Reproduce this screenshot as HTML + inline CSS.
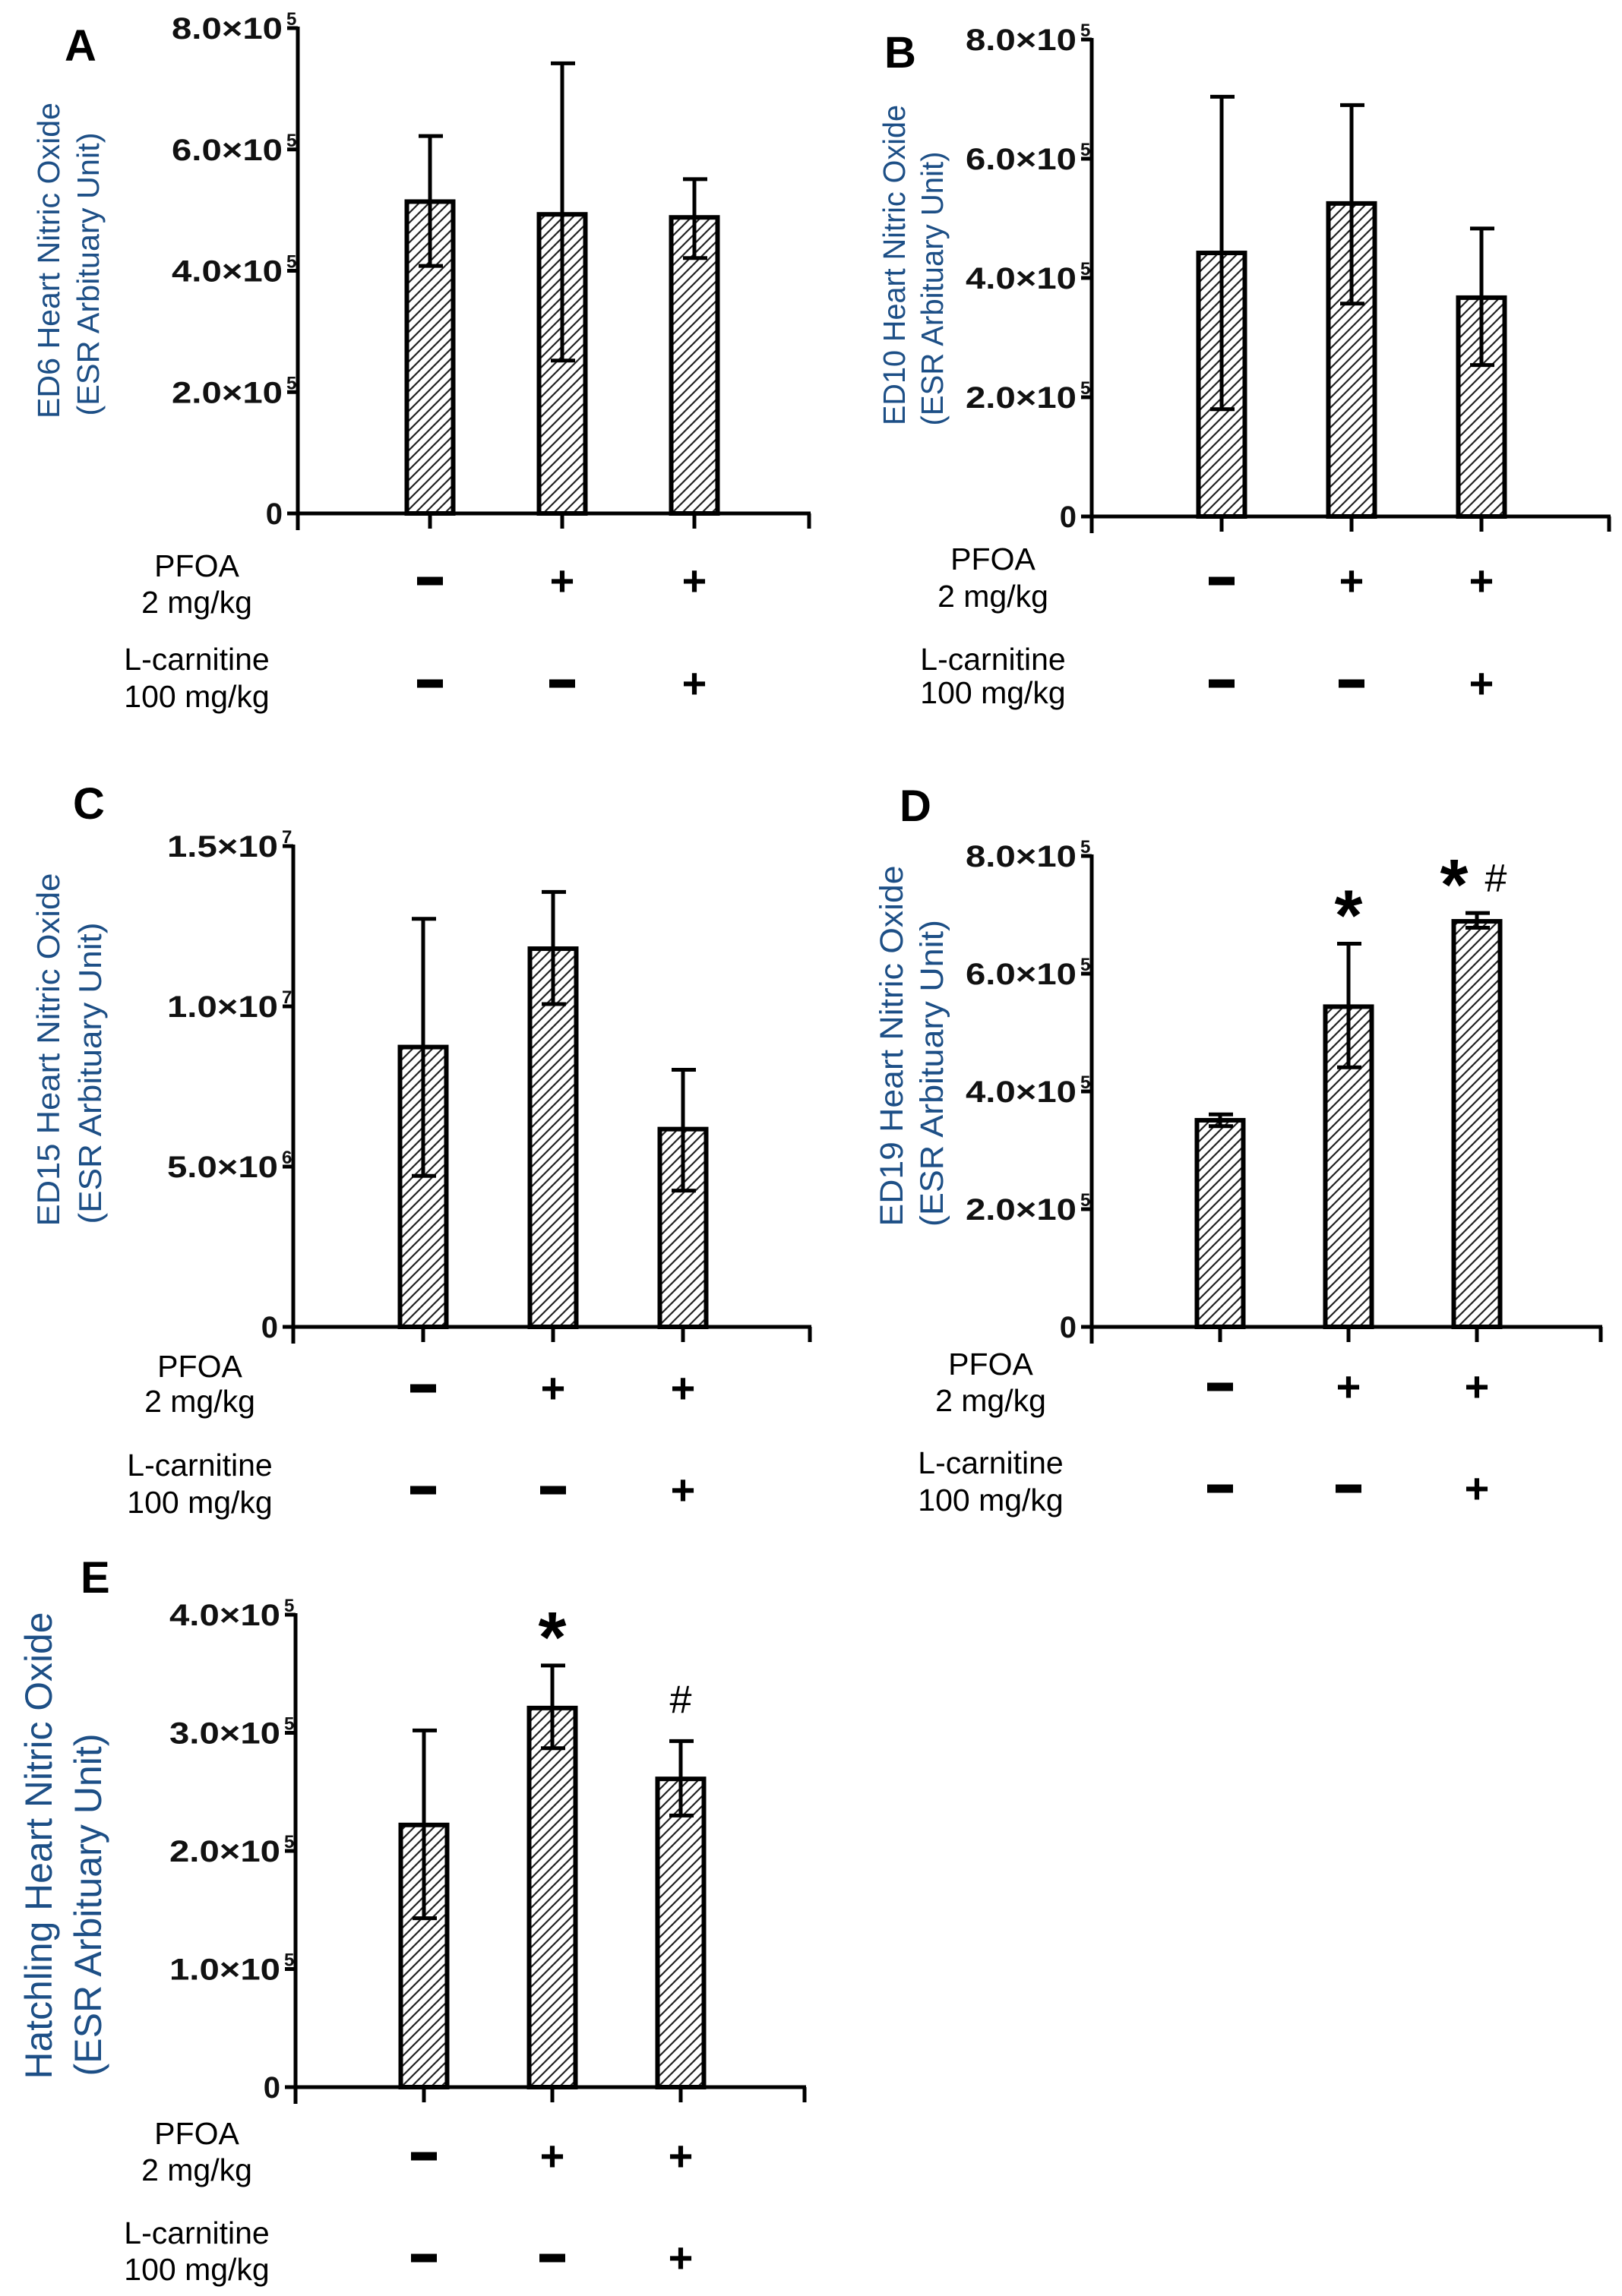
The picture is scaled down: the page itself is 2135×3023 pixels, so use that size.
<!DOCTYPE html>
<html><head><meta charset="utf-8"><style>
html,body{margin:0;padding:0;background:#fff;}
svg{display:block;}
</style></head><body>
<svg id="fig" width="2135" height="3023" viewBox="0 0 2135 3023" xmlns="http://www.w3.org/2000/svg">
<defs>
<pattern id="hatch" patternUnits="userSpaceOnUse" width="13" height="13">
<path d="M-3,3 L3,-3 M0,13 L13,0 M10,16 L16,10" stroke="#222" stroke-width="2.2"/>
</pattern>
</defs>
</svg>
<script>
// ---- data (values in units of the y-axis) ----
const categories = ["Control", "PFOA", "PFOA + L-carnitine"];
const pfoaSigns = ["-", "+", "+"];
const carnitineSigns = ["-", "-", "+"];

const meanA = [5.14e5, 4.93e5, 4.88e5];
const errHighA = [6.22e5, 7.42e5, 5.51e5];
const errLowA = [4.08e5, 2.52e5, 4.21e5];

const meanB = [4.42e5, 5.25e5, 3.67e5];
const errHighB = [7.04e5, 6.90e5, 4.83e5];
const errLowB = [1.80e5, 3.57e5, 2.54e5];

const meanC = [8.73e6, 11.8e6, 6.17e6];
const errHighC = [12.73e6, 13.57e6, 8.02e6];
const errLowC = [4.71e6, 10.07e6, 4.25e6];

const meanD = [3.51e5, 5.44e5, 6.89e5];
const errHighD = [3.61e5, 6.51e5, 7.03e5];
const errLowD = [3.41e5, 4.41e5, 6.78e5];

const meanE = [2.22e5, 3.21e5, 2.61e5];
const errHighE = [3.02e5, 3.57e5, 2.93e5];
const errLowE = [1.43e5, 2.87e5, 2.30e5];

const ticks58 = [0, 2e5, 4e5, 6e5, 8e5];
const tickLabels58 = ["0", "2.0×10", "4.0×10", "6.0×10", "8.0×10"];
const tickExp58 = ["", "5", "5", "5", "5"];
const ticksC = [0, 5e6, 1e7, 1.5e7];
const tickLabelsC = ["0", "5.0×10", "1.0×10", "1.5×10"];
const tickExpC = ["", "6", "7", "7"];
const ticksE = [0, 1e5, 2e5, 3e5, 4e5];
const tickLabelsE = ["0", "1.0×10", "2.0×10", "3.0×10", "4.0×10"];
const tickExpE = ["", "5", "5", "5", "5"];

const sigD = ["", "*", "*"];
const hashD = ["", "", "#"];
const sigE = ["", "*", ""];
const hashE = ["", "", "#"];

// ---- layout ----
const NS = "http://www.w3.org/2000/svg";
const svg = document.getElementById('fig');
function mk(tag, attrs, parent) {
  const e = document.createElementNS(NS, tag);
  for (const k in attrs) e.setAttribute(k, attrs[k]);
  (parent || svg).appendChild(e);
  return e;
}
const FONT = '"Liberation Sans", Arial, sans-serif';
const TITLE_COLOR = '#1d4f86';

const panels = [
  {id:'a', letter:'A', lx:85, ly:80, ax:392, top:37, zero:676, right:1067, step:174, max:8e5,
   mean:meanA, hi:errHighA, lo:errLowA, ticks:ticks58, tl:tickLabels58, te:tickExp58,
   t1:'ED6 Heart Nitric Oxide', t2:'(ESR Arbituary Unit)', t1x:78, t2x:130, t1c:343, t2c:361, t1l:416, t2l:373, tf:41,
   labx:259, lab:[759,807,882,931], sign:[765,900]},
  {id:'b', letter:'B', lx:1164, ly:89, ax:1437, top:52, zero:680, right:2120, step:171, max:8e5,
   mean:meanB, hi:errHighB, lo:errLowB, ticks:ticks58, tl:tickLabels58, te:tickExp58,
   t1:'ED10 Heart Nitric Oxide', t2:'(ESR Arbituary Unit)', t1x:1191, t2x:1241, t1c:349, t2c:380, t1l:422, t2l:361, tf:41,
   labx:1307, lab:[750,799,882,926], sign:[765,900]},
  {id:'c', letter:'C', lx:96, ly:1078, ax:386, top:1114, zero:1747, right:1068, step:171, max:1.5e7,
   mean:meanC, hi:errHighC, lo:errLowC, ticks:ticksC, tl:tickLabelsC, te:tickExpC,
   t1:'ED15 Heart Nitric Oxide', t2:'(ESR Arbituary Unit)', t1x:78, t2x:133, t1c:1382, t2c:1413, t1l:465, t2l:397, tf:42,
   labx:263, lab:[1813,1859,1943,1992], sign:[1828,1962]},
  {id:'d', letter:'D', lx:1184, ly:1081, ax:1437, top:1127, zero:1747, right:2109, step:169, max:8e5,
   mean:meanD, hi:errHighD, lo:errLowD, ticks:ticks58, tl:tickLabels58, te:tickExp58,
   t1:'ED19 Heart Nitric Oxide', t2:'(ESR Arbituary Unit)', t1x:1188, t2x:1241, t1c:1377, t2c:1413, t1l:475, t2l:404, tf:43,
   labx:1304, lab:[1810,1858,1940,1989], sign:[1826,1960], sig:sigD, hash:hashD},
  {id:'e', letter:'E', lx:106, ly:2097, ax:389, top:2126, zero:2748, right:1061, step:169, max:4e5,
   mean:meanE, hi:errHighE, lo:errLowE, ticks:ticksE, tl:tickLabelsE, te:tickExpE,
   t1:'Hatchling Heart Nitric Oxide', t2:'(ESR Arbituary Unit)', t1x:68, t2x:133, t1c:2430, t2c:2508, t1l:615, t2l:451, tf:50,
   labx:259, lab:[2823,2871,2954,3002], sign:[2839,2973], sig:sigE, hash:hashE}
];

panels.forEach(p => {
  const g = mk('g', {});
  
  
  const y = v => p.zero - (v / p.max) * (p.zero - p.top);
  const x = i => p.ax + p.step * (i + 1);

  const L = mk('text', {x:p.lx, y:p.ly, 'font-family':FONT, 'font-size':58, 'font-weight':'bold', fill:'#000'}, g);
  L.textContent = p.letter;
  
  

  const t1 = mk('text', {x:p.t1x, y:p.t1c, transform:`rotate(-90 ${p.t1x} ${p.t1c})`, 'text-anchor':'middle',
    'font-family':FONT, 'font-size':p.tf, fill:TITLE_COLOR, textLength:p.t1l, lengthAdjust:'spacingAndGlyphs'}, g);
  t1.textContent = p.t1;
  
  
  const t2 = mk('text', {x:p.t2x, y:p.t2c, transform:`rotate(-90 ${p.t2x} ${p.t2c})`, 'text-anchor':'middle',
    'font-family':FONT, 'font-size':p.tf, fill:TITLE_COLOR, textLength:p.t2l, lengthAdjust:'spacingAndGlyphs'}, g);
  t2.textContent = p.t2;
  
  

  p.ticks.forEach((v, k) => {
    const ty = y(v);
    const tk = mk('line', {x1:p.ax - 14, x2:p.ax, y1:ty, y2:ty, stroke:'#000', 'stroke-width':5}, g);
    
    
    const lab = mk('text', {x:p.ax - 20, y:ty + 14, 'text-anchor':'end', 'font-family':FONT, 'font-size':40,
      'font-weight':'bold', fill:'#111'}, g);
    if (p.te[k]) { lab.setAttribute('textLength', 146); lab.setAttribute('lengthAdjust', 'spacingAndGlyphs'); }
    lab.textContent = p.tl[k];
    
    
    if (p.te[k]) {
      const ex = mk('text', {x:p.ax - 15, y:ty - 4, 'font-family':FONT, 'font-size':24, 'font-weight':'bold', fill:'#111'}, g);
      ex.textContent = p.te[k];
      
      
    }
  });

  p.mean.forEach((v, i) => {
    const cx = x(i);
    const bar = mk('rect', {x:cx - 30.5, y:y(v), width:61, height:p.zero - y(v), fill:'url(#hatch)', stroke:'#000', 'stroke-width':6}, g);
    
    
    const eb = mk('path', {d:`M${cx},${y(p.lo[i])} L${cx},${y(p.hi[i])} M${cx - 15},${y(p.hi[i])} L${cx + 17},${y(p.hi[i])} M${cx - 15},${y(p.lo[i])} L${cx + 17},${y(p.lo[i])}`,
      stroke:'#000', 'stroke-width':5, fill:'none'}, g);
    
    
    if (p.sig && p.sig[i]) {
      const hasHash = p.hash && p.hash[i];
      const sx = hasHash ? cx - 30 : cx;
      const sy = y(p.hi[i]) - 55;
      const st = mk('text', {x:sx, y:sy + 50, 'text-anchor':'middle', 'font-family':FONT, 'font-size':95, 'font-weight':'bold', fill:'#000'}, g);
      st.textContent = '*';
      
      
    }
    if (p.hash && p.hash[i]) {
      const hasStar = p.sig && p.sig[i];
      const hx = hasStar ? cx + 25 : cx;
      const hy = hasStar ? y(p.hi[i]) - 28 : y(p.hi[i]) - 37;
      const ht = mk('text', {x:hx, y:hy, 'text-anchor':'middle', 'font-family':FONT, 'font-size':52, fill:'#000'}, g);
      ht.textContent = '#';
      
      
    }
  });

  const yaxis = mk('line', {x1:p.ax, x2:p.ax, y1:p.top - 2, y2:p.zero + 22, stroke:'#000', 'stroke-width':5}, g);
  
  
  const xaxis = mk('line', {x1:p.ax - 14, x2:p.right, y1:p.zero, y2:p.zero, stroke:'#000', 'stroke-width':5}, g);
  
  
  [0, 1, 2].forEach(i => {
    const xt = mk('line', {x1:x(i), x2:x(i), y1:p.zero, y2:p.zero + 20, stroke:'#000', 'stroke-width':5}, g);
    
    
  });
  const xe = mk('line', {x1:p.right - 2, x2:p.right - 2, y1:p.zero, y2:p.zero + 20, stroke:'#000', 'stroke-width':5}, g);
  
  

  const names = ['PFOA', '2 mg/kg', 'L-carnitine', '100 mg/kg'];
  names.forEach((n, k) => {
    const t = mk('text', {x:p.labx, y:p.lab[k], 'text-anchor':'middle', 'font-family':FONT, 'font-size':41, fill:'#000'}, g);
    t.textContent = n;
    
    
  });
  [pfoaSigns, carnitineSigns].forEach((row, r) => {
    row.forEach((s, i) => {
      const cx = x(i), sy = p.sign[r];
      if (s === '-') {
        const m = mk('rect', {x:cx - 17, y:sy - 5.5, width:34, height:11, fill:'#000'}, g);
        
        
      } else {
        const t = mk('text', {x:cx, y:sy + 19, 'text-anchor':'middle', 'font-family':FONT, 'font-size':56, 'font-weight':'bold', fill:'#000'}, g);
        t.textContent = '+';
        
        
      }
    });
  });
});
</script>
</body></html>
